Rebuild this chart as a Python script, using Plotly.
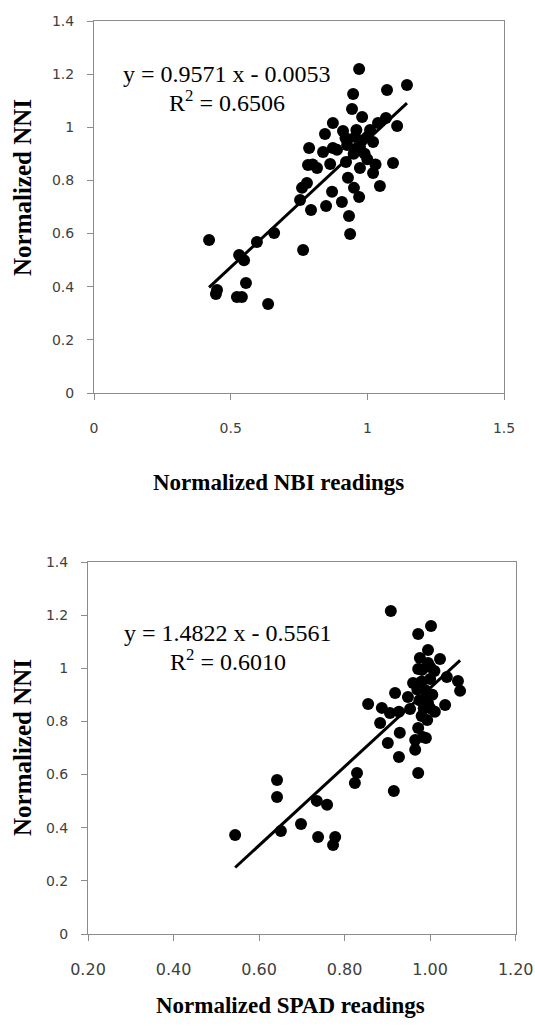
import plotly.graph_objects as go

# ---------------- data ----------------
nbi_x = [0.421, 0.450, 0.446, 0.523, 0.541, 0.556, 0.531, 0.549, 0.596, 0.659,
         0.637, 0.765, 0.754, 0.761, 0.779, 0.783, 0.787, 0.794, 0.816, 0.838,
         0.849, 0.845, 0.864, 0.871, 0.874, 0.874, 0.889, 0.907, 0.911, 0.922,
         0.926, 0.929, 0.933, 0.937, 0.944, 0.948, 0.951, 0.955, 0.970, 0.970,
         0.973, 0.973, 0.981, 0.999, 1.021, 1.021, 1.039, 1.046, 1.068, 1.072,
         1.094, 1.109, 1.145, 0.800, 0.960, 0.990, 1.000, 0.950, 1.010, 0.980,
         0.920, 0.960, 1.030]
nbi_y = [0.576, 0.388, 0.373, 0.361, 0.361, 0.414, 0.519, 0.500, 0.568, 0.602,
         0.335, 0.538, 0.726, 0.772, 0.790, 0.858, 0.922, 0.689, 0.847, 0.907,
         0.704, 0.975, 0.862, 0.757, 1.016, 0.922, 0.915, 0.719, 0.986, 0.869,
         0.933, 0.810, 0.666, 0.598, 1.069, 1.125, 0.772, 0.963, 1.219, 0.738,
         0.847, 0.926, 1.039, 0.963, 0.828, 0.945, 1.016, 0.779, 1.035, 1.140,
         0.866, 1.005, 1.159, 0.860, 0.990, 0.900, 0.880, 0.900, 0.990, 0.950,
         0.960, 0.920, 0.860]

spad_x = [0.544, 0.642, 0.642, 0.651, 0.698, 0.735, 0.759, 0.738, 0.778, 0.773,
          0.829, 0.824, 0.915, 0.927, 0.901, 0.929, 0.883, 0.855, 0.887, 0.906,
          0.927, 0.918, 0.948, 0.953, 0.965, 0.965, 0.972, 0.990, 0.972, 0.960,
          0.995, 1.011, 1.035, 1.039, 1.065, 1.070, 0.993, 0.988, 0.981, 0.908,
          1.002, 0.972, 0.995, 1.023, 0.976, 0.972, 1.000, 0.983, 0.980, 0.990,
          1.000, 1.005, 0.985, 1.010, 0.975, 0.970, 1.000, 0.995, 0.980]
spad_y = [0.373, 0.580, 0.516, 0.388, 0.414, 0.501, 0.486, 0.365, 0.365, 0.335,
          0.606, 0.568, 0.538, 0.666, 0.719, 0.757, 0.794, 0.866, 0.851, 0.832,
          0.836, 0.907, 0.892, 0.847, 0.730, 0.693, 0.775, 0.738, 0.606, 0.945,
          0.869, 0.836, 0.862, 0.967, 0.952, 0.915, 0.805, 0.918, 0.994, 1.216,
          1.159, 1.129, 1.069, 1.035, 1.039, 0.997, 1.005, 0.741, 0.950, 0.880,
          0.960, 0.900, 0.850, 0.990, 0.880, 0.920, 0.850, 1.020, 0.820]

nbi_slope, nbi_intercept, nbi_r2 = 0.9571, -0.0053, "0.6506"
spad_slope, spad_intercept, spad_r2 = 1.4822, -0.5561, "0.6010"

y_ticks = [0, 0.2, 0.4, 0.6, 0.8, 1.0, 1.2, 1.4]
y_tick_text = ["0", "0.2", "0.4", "0.6", "0.8", "1", "1.2", "1.4"]
nbi_x_ticks = [0, 0.5, 1.0, 1.5]
nbi_x_tick_text = ["0", "0.5", "1", "1.5"]
spad_x_ticks = [0.2, 0.4, 0.6, 0.8, 1.0, 1.2]
spad_x_tick_text = ["0.20", "0.40", "0.60", "0.80", "1.00", "1.20"]

y_title = "Normalized NNI"
nbi_title = "Normalized NBI readings"
spad_title = "Normalized SPAD readings"

# ---------------- figure ----------------
W, H = 535, 1026
fig = go.Figure()

def trend(xs, m, b):
    x0, x1 = min(xs), max(xs)
    return [x0, x1], [m * x0 + b, m * x1 + b]

marker = dict(color="black", size=12, line=dict(width=0))

fig.add_trace(go.Scatter(x=nbi_x, y=nbi_y, mode="markers", marker=marker,
                         xaxis="x", yaxis="y", showlegend=False))
tx, ty = trend(nbi_x, nbi_slope, nbi_intercept)
fig.add_trace(go.Scatter(x=tx, y=ty, mode="lines", line=dict(color="black", width=3),
                         xaxis="x", yaxis="y", showlegend=False))

fig.add_trace(go.Scatter(x=spad_x, y=spad_y, mode="markers", marker=marker,
                         xaxis="x2", yaxis="y2", showlegend=False))
tx, ty = trend(spad_x, spad_slope, spad_intercept)
fig.add_trace(go.Scatter(x=tx, y=ty, mode="lines", line=dict(color="black", width=3),
                         xaxis="x2", yaxis="y2", showlegend=False))

tick_font = dict(family="DejaVu Sans", size=14, color="#404040")
tick_font_b = dict(family="DejaVu Sans", size=16, color="#404040")
axis_common = dict(showgrid=False, zeroline=False, showline=True, mirror=True,
                   linecolor="#8c8c8c", linewidth=1, ticks="outside", ticklen=6,
                   tickcolor="#8c8c8c", automargin=False)

def px_x(p):
    return p / W

def px_y(p):
    return 1 - p / H

fig.update_layout(
    width=W, height=H,
    margin=dict(l=0, r=0, t=0, b=0, autoexpand=False),
    paper_bgcolor="white", plot_bgcolor="white",
    xaxis=dict(domain=[px_x(94), px_x(504)], range=[0, 1.5], tickvals=nbi_x_ticks,
               ticktext=nbi_x_tick_text, anchor="y", ticklabelstandoff=16,
               tickfont=tick_font, **axis_common),
    yaxis=dict(domain=[px_y(393), px_y(21)], range=[0, 1.4], tickvals=y_ticks,
               ticktext=y_tick_text, anchor="x", ticklabelstandoff=10,
               tickfont=tick_font, **axis_common),
    xaxis2=dict(domain=[px_x(88), px_x(515.7)], range=[0.2, 1.2], tickvals=spad_x_ticks,
                ticktext=spad_x_tick_text, anchor="y2", ticklabelstandoff=15,
                tickfont=tick_font_b, **axis_common),
    yaxis2=dict(domain=[px_y(934), px_y(562)], range=[0, 1.4], tickvals=y_ticks,
                ticktext=y_tick_text, anchor="x2", ticklabelstandoff=10,
                tickfont=tick_font, **axis_common),
)

serif = "Liberation Serif"
xtitle_font = dict(family=serif, size=23, color="black")
ytitle_font = dict(family=serif, size=25, color="black")
eq_font = dict(family=serif, size=24, color="black")

def ann(x, y, text, font, angle=0):
    fig.add_annotation(x=px_x(x), y=px_y(y), xref="paper", yref="paper", text=text,
                       showarrow=False, font=font, textangle=angle,
                       xanchor="center", yanchor="middle")

def fmt_eq(m, b):
    sign = "-" if b < 0 else "+"
    return f"y = {m:.4f} x {sign} {abs(b):.4f}"

ann(227, 74, fmt_eq(nbi_slope, nbi_intercept), eq_font)
ann(227, 101, f"R<sup>2</sup> = {nbi_r2}", eq_font)
ann(228, 633, fmt_eq(spad_slope, spad_intercept), eq_font)
ann(228, 660, f"R<sup>2</sup> = {spad_r2}", eq_font)

ann(278, 482, f"<b>{nbi_title}</b>", xtitle_font)
ann(290, 1005, f"<b>{spad_title}</b>", xtitle_font)
ann(22, 188, f"<b>{y_title}</b>", ytitle_font, angle=-90)
ann(22, 748, f"<b>{y_title}</b>", ytitle_font, angle=-90)

fig.write_html("out.html", config={"displayModeBar": False},
               post_script="document.body.style.margin='0';document.body.style.overflow='hidden';")
